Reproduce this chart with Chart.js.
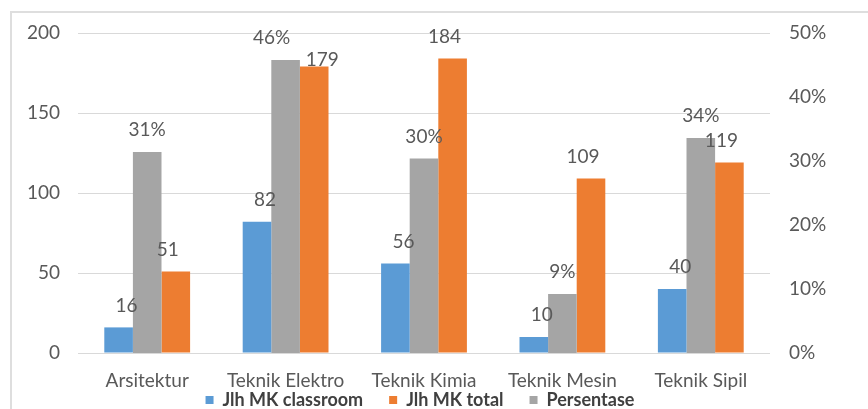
<!DOCTYPE html>
<html>
<head>
<meta charset="utf-8">
<script src="https://cdn.jsdelivr.net/npm/chart.js@4/dist/chart.umd.min.js"></script>
<style>
  html, body { margin: 0; padding: 0; background: #fff; overflow: hidden; }
  #wrap { position: relative; width: 868px; height: 409px; }
  #frame { position: absolute; left: 10px; top: 11px; width: 900px; height: 420px; border: 2px solid #dedede; box-sizing: border-box; }
  #c { position: absolute; left: 0; top: 0; }
</style>
</head>
<body>
<div id="wrap">
  <div id="frame"></div>
  <canvas id="c" width="868" height="409"></canvas>
</div>
<script>
const categories = ["Arsitektur", "Teknik Elektro", "Teknik Kimia", "Teknik Mesin", "Teknik Sipil"];
const mkClassroom = [16, 82, 56, 10, 40];
const mkTotal = [51, 179, 184, 109, 119];
const persentase = [0.314, 0.458, 0.304, 0.092, 0.336];
const leftTicks = [0, 50, 100, 150, 200];
const rightTicks = [0, 0.1, 0.2, 0.3, 0.4, 0.5];

const TEXT = '#595959';
const FONT = 'Lato, "Open Sans", sans-serif';

// label placement style: per-dataset horizontal shift and a couple of collision nudges
const labelShift = [8, 0, -8];
const labelNudges = { '1:1': [-14, 0], '2:1': [16, 15] };

const labelPlugin = {
  id: 'barLabels',
  afterDatasetsDraw(chart) {
    const ctx = chart.ctx;
    ctx.save();
    ctx.font = '19px ' + FONT;
    ctx.fillStyle = TEXT;
    ctx.textAlign = 'center';
    ctx.textBaseline = 'middle';
    chart.data.datasets.forEach((ds, di) => {
      const meta = chart.getDatasetMeta(di);
      meta.data.forEach((bar, i) => {
        const v = ds.data[i];
        const txt = ds.yAxisID === 'y1' ? Math.round(v * 100) + '%' : String(v);
        const n = labelNudges[di + ':' + i] || [0, 0];
        ctx.fillText(txt, bar.x + labelShift[di] + n[0], bar.y - 22 + n[1]);
      });
    });
    ctx.restore();
  }
};

const legendOrder = [0, 2, 1];

new Chart(document.getElementById('c'), {
  type: 'bar',
  data: {
    labels: categories,
    datasets: [
      { label: 'Jlh MK classroom', data: mkClassroom, backgroundColor: '#5B9BD5', yAxisID: 'y' },
      { label: 'Persentase', data: persentase, backgroundColor: '#A5A5A5', yAxisID: 'y1' },
      { label: 'Jlh MK total', data: mkTotal, backgroundColor: '#ED7D31', yAxisID: 'y' }
    ]
  },
  options: {
    responsive: false,
    animation: false,
    layout: { padding: { top: 33, left: 0, right: 28, bottom: -10 } },
    datasets: { bar: { categoryPercentage: 0.62, barPercentage: 1.0 } },
    plugins: {
      tooltip: { enabled: false },
      legend: {
        position: 'bottom',
        labels: {
          color: '#404040',
          font: { family: FONT, size: 18, weight: 'bold' },
          boxWidth: 8,
          boxHeight: 8,
          padding: 26,
          sort: (a, b) => legendOrder.indexOf(a.datasetIndex) - legendOrder.indexOf(b.datasetIndex)
        }
      }
    },
    scales: {
      x: {
        grid: { display: false, drawTicks: false },
        border: { display: false },
        afterFit: s => { s.height = 12; },
        ticks: { color: TEXT, font: { family: FONT, size: 19 }, mirror: true, padding: -39.4, maxRotation: 0, autoSkip: false }
      },
      y: {
        position: 'left',
        min: 0, max: 200,
        afterBuildTicks: s => { s.ticks = leftTicks.map(v => ({ value: v })); },
        afterFit: s => { s.width = 78; },
        grid: { color: '#d9d9d9', drawTicks: false },
        border: { display: false },
        ticks: { color: TEXT, font: { family: FONT, size: 19 }, padding: 18 }
      },
      y1: {
        position: 'right',
        min: 0, max: 0.5,
        afterBuildTicks: s => { s.ticks = rightTicks.map(v => ({ value: v })); },
        afterFit: s => { s.width = 70; },
        grid: { display: false, drawTicks: false },
        border: { display: false },
        ticks: { color: TEXT, font: { family: FONT, size: 19 }, padding: 19,
          callback: v => Math.round(v * 100) + '%' }
      }
    }
  },
  plugins: [labelPlugin]
});
</script>
</body>
</html>
